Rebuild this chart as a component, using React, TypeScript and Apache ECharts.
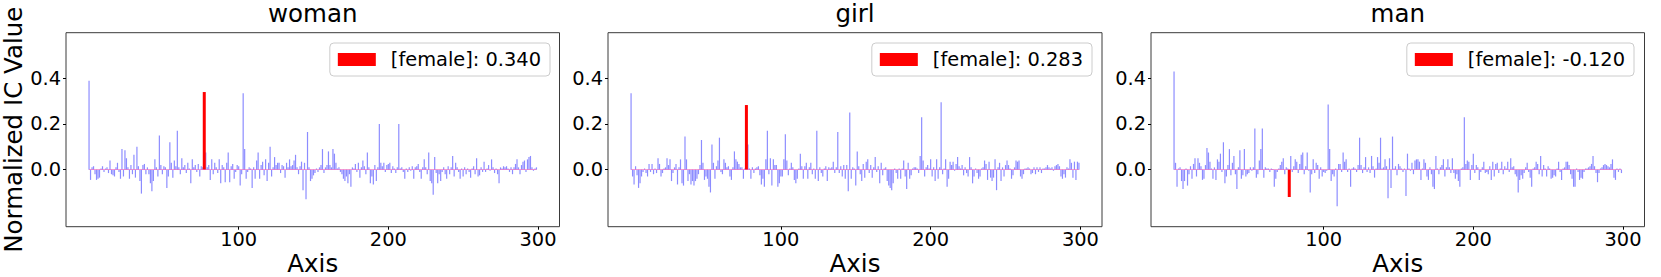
import React, { useEffect, useRef } from "react";
import * as echarts from "echarts";

const PANEL_TITLES = ["woman", "girl", "man"];
const TARGET_INDEX = 77;
const TARGET_LABEL = "[female]";
const X_TICKS = [100, 200, 300];
const Y_TICKS = [0, 0.2, 0.4];
const X_NAME = "Axis";
const Y_NAME = "Normalized IC Value";

const WOMAN = [
  0.39, -0.045, 0.01, 0.015, -0.02, -0.045, -0.04, -0.035, 0.005, 0.015, -0.01, 0.005, 0.01, -0.015, 0.04, -0.02, -0.025, -0.03, 0.01, 0.03,
  -0.01, -0.04, 0.09, -0.03, 0.085, 0.05, 0.01, -0.04, 0.02, -0.02, 0.065, -0.035, 0.1, 0.015, -0.05, -0.105, 0.02, 0.025, -0.02, 0.01,
  -0.02, -0.06, -0.095, -0.05, 0.045, 0.01, -0.03, 0.15, 0.02, -0.02, 0.015, 0.01, -0.08, -0.03, 0.12, 0.03, -0.035, 0.04, 0.015, 0.17,
  0.01, -0.02, 0.05, 0.01, 0.02, -0.015, 0.03, 0.005, -0.06, 0.045, 0.01, 0.02, -0.01, 0.025, -0.03, 0.015, 0.01, 0.34, 0.075, 0.01,
  0.02, -0.045, 0.045, -0.02, 0.03, 0.01, -0.015, 0.045, -0.06, 0.02, 0.01, -0.055, 0.03, 0.075, -0.055, 0.015, 0.025, -0.04, -0.01, 0.02,
  0.015, -0.07, -0.02, 0.335, 0.09, -0.04, -0.01, 0.01, 0.005, -0.08, 0.01, -0.04, 0.04, 0.075, -0.04, 0.02, 0.035, -0.025, 0.045, -0.05,
  0.03, 0.1, -0.03, 0.01, 0.055, 0.02, 0.03, 0.03, -0.015, 0.02, 0.015, -0.035, 0.03, 0.01, 0.045, 0.015, 0.02, 0.04, 0.065, 0.01,
  -0.02, 0.015, 0.035, -0.09, 0.03, -0.13, 0.165, 0.01, -0.05, -0.04, -0.025, -0.015, 0.005, -0.01, 0.01, 0.02, 0.09, -0.015, 0.01, 0.02,
  0.08, 0.02, 0.01, 0.09, 0.07, 0.03, 0.005, 0.01, -0.01, -0.02, -0.04, -0.05, -0.03, -0.06, -0.02, -0.075, 0.01, 0.005, 0.025, -0.01,
  0.03, -0.035, 0.01, 0.04, 0.015, -0.02, 0.075, 0.01, -0.06, -0.03, -0.065, 0.02, -0.05, 0.01, 0.2, 0.03, 0.015, 0.03, -0.01, 0.02,
  0.025, 0.03, -0.015, 0.015, 0.005, -0.015, 0.01, 0.2, 0.005, 0.01, -0.01, -0.04, 0.005, -0.01, 0.01, -0.005, 0.015, -0.04, 0.01, 0.015,
  0.025, -0.01, -0.04, 0.01, 0.045, 0.01, -0.02, 0.075, -0.05, -0.06, -0.11, 0.055, -0.015, -0.06, -0.02, -0.05, -0.01, 0.01, -0.02, -0.04,
  0.015, -0.02, 0.01, 0.06, -0.03, 0.03, 0.01, -0.01, -0.04, 0.005, -0.03, 0.01, -0.02, 0.005, -0.01, -0.035, 0.005, 0.015, -0.02, 0.05,
  -0.03, -0.025, 0.01, -0.01, 0.035, -0.01, 0.005, 0.02, -0.005, 0.045, 0.01, -0.015, 0.005, -0.02, -0.06, 0.01, 0.005, 0.015, 0.01, 0.015,
  0.005, -0.01, 0.01, -0.02, 0.01, 0.025, 0.045, 0.01, -0.02, 0.02, 0.035, 0.04, -0.01, 0.045, 0.055, 0.06, 0.01, -0.005, 0.005, 0.01,
];

const GIRL = [
  0.335, -0.03, -0.065, 0.015, -0.025, -0.08, -0.06, -0.03, -0.01, 0.005, -0.015, -0.03, 0.025, -0.01, 0.025, -0.02, 0.005, -0.015, 0.05, 0.025,
  -0.03, -0.015, 0.005, 0.01, 0.05, 0.02, 0.045, -0.05, -0.015, 0.01, 0.025, -0.065, 0.01, 0.045, -0.06, -0.07, 0.145, 0.045, -0.05, -0.02,
  -0.065, -0.05, -0.07, -0.05, -0.04, -0.02, 0.02, 0.13, 0.03, -0.045, -0.03, -0.04, -0.075, -0.1, 0.11, 0.03, -0.04, 0.015, 0.04, 0.14,
  -0.01, -0.02, 0.045, 0.03, 0.01, 0.015, -0.03, -0.045, 0.01, 0.08, 0.045, 0.035, 0.025, 0.01, 0.01, -0.04, 0.005, 0.283, 0.11, 0.005,
  -0.04, 0.01, -0.015, 0.005, 0.01, 0.015, -0.025, -0.065, -0.04, -0.075, 0.045, 0.17, -0.02, 0.05, -0.07, 0.045, 0.02, 0.02, -0.075, -0.06,
  -0.03, -0.03, 0.045, 0.155, 0.04, -0.025, 0.005, 0.03, 0.01, -0.045, -0.06, -0.04, 0.005, 0.07, 0.015, -0.04, 0.015, 0.03, -0.04, 0.01,
  0.03, -0.02, 0.005, -0.04, 0.17, -0.05, 0.01, -0.015, -0.03, 0.005, 0.015, -0.05, 0.01, 0.005, 0.01, 0.035, -0.015, 0.01, 0.165, -0.015,
  0.015, -0.03, 0.02, -0.04, 0.02, -0.095, 0.25, -0.04, 0.01, 0.005, -0.07, 0.08, 0.015, -0.02, -0.05, 0.025, -0.035, 0.035, 0.045, -0.015,
  0.02, -0.035, 0.01, 0.055, -0.01, 0.015, -0.06, 0.03, -0.025, 0.005, 0.01, -0.05, -0.07, -0.08, -0.09, -0.06, 0.005, -0.015, -0.04, 0.005,
  -0.04, 0.005, 0.04, -0.03, -0.085, 0.03, -0.04, -0.025, 0.005, 0.01, 0.01, 0.005, -0.015, 0.06, 0.23, 0.04, -0.03, 0.01, 0.02, 0.005,
  0.045, -0.03, 0.01, -0.05, 0.045, -0.04, 0.01, 0.295, -0.02, 0.005, 0.045, -0.075, -0.04, 0.035, 0.02, 0.035, -0.005, 0.025, 0.055, 0.015,
  0.005, 0.02, -0.025, 0.01, -0.015, -0.03, 0.055, 0.01, -0.06, -0.03, 0.005, -0.015, -0.04, -0.03, 0.005, 0.01, 0.04, 0.025, -0.045, 0.035,
  -0.035, -0.05, -0.035, 0.045, -0.09, 0.01, 0.03, -0.05, 0.01, -0.03, 0.02, 0.04, 0.02, 0.005, -0.04, -0.025, 0.01, 0.04, 0.035, 0.04,
  -0.03, -0.04, -0.02, 0.005, 0.005, 0.01, 0.005, -0.02, -0.015, 0.01, -0.02, 0.01, -0.01, 0.01, -0.015, 0.005, 0.005, 0.01, 0.02, 0.01,
  0.005, 0.01, -0.005, 0.015, 0.02, 0.025, 0.015, -0.03, -0.04, -0.02, -0.035, 0.01, 0.005, 0.045, 0.03, -0.035, 0.035, -0.045, 0.035, 0.03,
];

const MAN = [
  0.43, 0.03, -0.075, 0.005, 0.01, -0.05, -0.085, -0.05, 0.005, -0.07, -0.02, 0.015, -0.04, 0.025, 0.05, -0.03, 0.05, 0.03, 0.015, -0.045,
  -0.04, 0.02, 0.095, 0.075, 0.035, 0.005, -0.04, 0.01, -0.045, 0.045, 0.035, 0.07, -0.01, 0.12, -0.06, -0.03, 0.02, 0.09, -0.025, 0.03,
  0.06, -0.02, -0.085, 0.01, 0.085, -0.04, -0.025, 0.09, -0.03, -0.02, -0.015, 0.01, -0.005, 0.01, 0.18, -0.035, -0.02, 0.04, 0.09, 0.18,
  -0.035, 0.01, 0.005, 0.005, -0.01, 0.005, 0.003, -0.075, -0.04, -0.01, 0.005, 0.02, 0.035, 0.05, -0.02, 0.01, 0.005, -0.12, 0.06, -0.01,
  0.015, 0.045, 0.035, -0.015, 0.025, 0.065, 0.075, -0.02, 0.015, 0.075, -0.005, -0.1, -0.02, 0.045, -0.015, 0.03, 0.02, -0.04, 0.01, -0.03,
  -0.01, -0.015, -0.005, 0.285, 0.09, -0.05, -0.02, -0.03, 0.005, -0.16, 0.025, 0.025, -0.01, 0.075, 0.035, 0.045, -0.01, 0.005, -0.075, 0.005,
  0.01, 0.005, -0.01, 0.02, 0.14, 0.02, -0.015, 0.01, 0.055, -0.01, 0.01, -0.015, 0.06, 0.015, -0.035, 0.005, 0.055, 0.03, 0.14, 0.005,
  0.01, 0.045, 0.015, -0.125, 0.05, -0.08, 0.145, 0.005, 0.015, -0.025, 0.025, 0.015, 0.005, -0.01, 0.005, -0.115, 0.07, 0.005, -0.005, 0.03,
  -0.02, 0.04, 0.045, 0.045, 0.035, -0.045, 0.005, 0.045, 0.03, -0.03, -0.045, 0.01, -0.02, -0.075, -0.085, 0.06, 0.005, -0.02, 0.01, 0.02,
  0.045, -0.03, 0.01, 0.045, 0.01, -0.015, 0.05, -0.015, -0.04, -0.02, -0.05, -0.075, 0.005, 0.01, 0.23, 0.025, 0.04, 0.035, -0.045, 0.02,
  0.07, -0.015, 0.02, 0.01, -0.045, -0.01, 0.01, 0.035, -0.015, -0.01, -0.02, 0.015, -0.045, 0.035, -0.03, 0.025, 0.03, -0.015, 0.005, 0.035,
  -0.02, 0.015, 0.005, 0.035, -0.01, 0.05, 0.01, 0.015, -0.02, -0.03, -0.1, -0.045, -0.025, -0.04, -0.015, 0.01, 0.03, -0.01, -0.035, -0.075,
  0.005, 0.01, 0.035, 0.025, -0.02, 0.06, -0.03, 0.02, 0.005, -0.03, 0.015, 0.005, -0.04, -0.035, -0.025, -0.03, 0.005, 0.035, -0.01, -0.045,
  0.005, 0.01, 0.035, 0.035, 0.02, -0.02, -0.04, -0.075, -0.075, 0.005, -0.01, -0.045, -0.035, -0.04, -0.01, 0.005, 0.005, 0.01, 0.015, 0.025,
  0.06, 0.015, -0.015, -0.055, -0.015, 0.005, 0.01, 0.02, 0.025, 0.02, 0.015, 0.01, 0.025, 0.045, -0.035, -0.045, 0.005, -0.01, 0.005, -0.015,
];

const PANEL_VALUES = [WOMAN, GIRL, MAN];

const FONT = "DejaVu Sans";
const GRID_LEFT = [66, 608, 1151];
const GRID_WIDTH = [493.5, 494, 493.5];
const GRID_TOP = 32.7;
const GRID_HEIGHT = 194;
const LEGEND_RIGHT = [1111, 569, 27];

export default function App() {
  const ref = useRef<HTMLDivElement>(null);

  useEffect(() => {
    if (!ref.current) return;
    const chart = echarts.init(ref.current, null, { renderer: "svg" });

    const grids: any[] = [];
    const xAxes: any[] = [];
    const yAxes: any[] = [];
    const series: any[] = [];
    const legends: any[] = [];
    const graphics: any[] = [];

    PANEL_VALUES.forEach((vals, p) => {
      grids.push({
        left: GRID_LEFT[p],
        top: GRID_TOP,
        width: GRID_WIDTH[p],
        height: GRID_HEIGHT,
        show: true,
        borderColor: "#3a3a3a",
        borderWidth: 1,
        backgroundColor: "transparent",
      });
      const xBase = {
        type: "value",
        gridIndex: p,
        position: "bottom",
        min: -15.4,
        max: 314.4,
        splitLine: { show: false },
        axisLine: { show: false, onZero: false },
      };
      xAxes.push({
        ...xBase,
        axisTick: { show: true, length: 3, lineStyle: { color: "#000" }, customValues: X_TICKS },
        axisLabel: {
          show: true,
          customValues: X_TICKS,
          fontFamily: FONT,
          fontSize: 19.4,
          color: "#000",
          margin: 13,
          verticalAlign: "middle",
        },
      });
      xAxes.push({
        ...xBase,
        show: false,
        axisTick: { show: false },
        axisLabel: { show: false },
      });
      yAxes.push({
        type: "value",
        gridIndex: p,
        position: "left",
        min: -0.25,
        max: 0.6,
        splitLine: { show: false },
        axisLine: { show: false, onZero: false },
        axisTick: { show: true, length: 3, lineStyle: { color: "#000" }, customValues: Y_TICKS },
        axisLabel: {
          show: true,
          customValues: Y_TICKS,
          formatter: (v: number) => v.toFixed(1),
          fontFamily: FONT,
          fontSize: 19.4,
          color: "#000",
          margin: 5,
        },
      });

      const name = `${TARGET_LABEL}: ${vals[TARGET_INDEX].toFixed(3)}`;
      series.push({
        type: "bar",
        name: `bars-${p}`,
        xAxisIndex: 2 * p,
        yAxisIndex: p,
        barWidth: 1.2,
        itemStyle: { color: "rgba(0,0,255,0.45)" },
        data: vals.map((v, i) => [i, v]),
        z: 2,
        markLine: {
          silent: true,
          symbol: "none",
          label: { show: false },
          lineStyle: { color: "rgba(255,60,160,0.45)", width: 1, type: "solid" },
          data: [[{ coord: [0, 0] }, { coord: [vals.length - 1, 0] }]],
        },
      });
      series.push({
        type: "bar",
        name,
        xAxisIndex: 2 * p + 1,
        yAxisIndex: p,
        barWidth: 3,
        itemStyle: { color: "#ff0000" },
        data: [[TARGET_INDEX, vals[TARGET_INDEX]]],
        z: 3,
      });
      legends.push({
        data: [name],
        right: LEGEND_RIGHT[p],
        top: 43,
        icon: "rect",
        itemWidth: 38,
        itemHeight: 13,
        selectedMode: false,
        padding: [7, 9, 7, 8],
        borderColor: "#cccccc",
        borderWidth: 1,
        borderRadius: 4,
        backgroundColor: "rgba(255,255,255,0.8)",
        textStyle: {
          fontFamily: FONT,
          fontSize: 19.4,
          color: "#000",
          lineHeight: 19,
          padding: [0, 0, 0, 10],
        },
      });

      const cx = GRID_LEFT[p] + GRID_WIDTH[p] / 2;
      graphics.push({
        type: "text",
        x: cx,
        y: 13.1,
        style: {
          text: PANEL_TITLES[p],
          font: `24.5px '${FONT}'`,
          fill: "#000",
          textAlign: "center",
          textVerticalAlign: "middle",
        },
      });
      graphics.push({
        type: "text",
        x: cx,
        y: 263.5,
        style: {
          text: X_NAME,
          font: `24.5px '${FONT}'`,
          fill: "#000",
          textAlign: "center",
          textVerticalAlign: "middle",
        },
      });
    });

    graphics.push({
      type: "text",
      x: 13.4,
      y: GRID_TOP + GRID_HEIGHT / 2,
      rotation: Math.PI / 2,
      style: {
        text: Y_NAME,
        font: `24.5px '${FONT}'`,
        fill: "#000",
        textAlign: "center",
        textVerticalAlign: "middle",
      },
    });

    chart.setOption({
      animation: false,
      backgroundColor: "#ffffff",
      grid: grids,
      xAxis: xAxes,
      yAxis: yAxes,
      series,
      legend: legends,
      graphic: graphics,
    });

    return () => chart.dispose();
  }, []);

  return (
    <div
      ref={ref}
      style={{ position: "fixed", left: 0, top: 0, width: 1661, height: 277 }}
    />
  );
}
